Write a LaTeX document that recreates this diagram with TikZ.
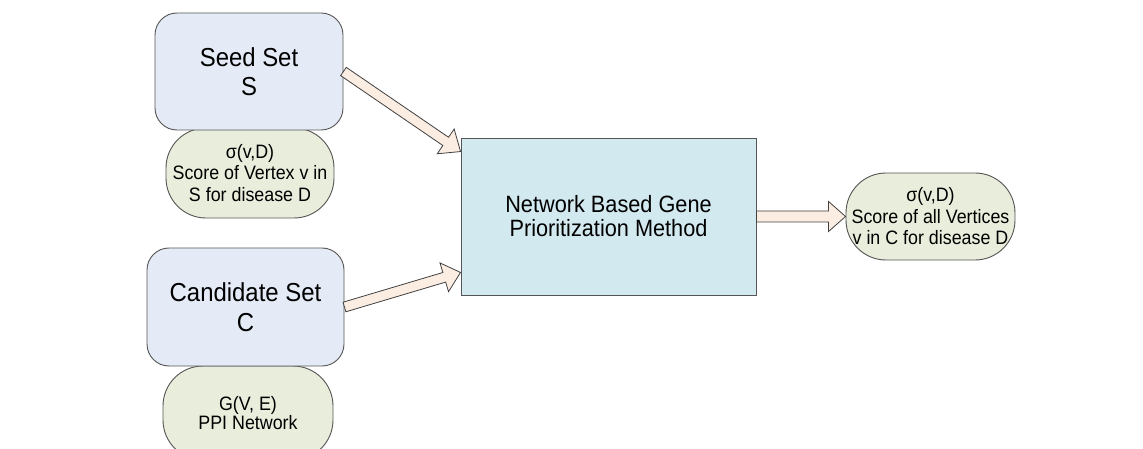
\documentclass[tikz,border=0pt]{standalone}
\usepackage{fontspec}
\setmainfont[FakeStretch=0.92]{Liberation Sans}
\usetikzlibrary{calc}
\definecolor{setfill}{HTML}{E5EBF6}
\definecolor{notefill}{HTML}{E9EDDB}
\definecolor{mainfill}{HTML}{D2E9EF}
\definecolor{arrowfill}{HTML}{FCEDE3}
\definecolor{edgecol}{HTML}{555555}
\tikzset{
  setbox/.style={draw=edgecol, line width=0.9pt, fill=setfill, rounded corners=22pt,
    align=center, font=\fontsize{26}{29.5}\selectfont, inner sep=0pt},
  notebox/.style={draw=edgecol, line width=0.9pt, fill=notefill, rounded corners=40pt,
    align=center, inner sep=0pt},
  mainbox/.style={draw=edgecol, line width=0.9pt, fill=mainfill,
    align=center, font=\fontsize{23.6}{24}\selectfont, inner sep=0pt},
  blockarr/.style={draw=black!75, line width=0.8pt, fill=arrowfill, line join=miter},
}
% block arrow from #1 to #2: shaft half width #3, head half width #4, head length #5
\newcommand{\bigarrow}[5]{%
  \path (#1) coordinate (ba-s) (#2) coordinate (ba-t);
  \path ($(ba-t)!#5!(ba-s)$) coordinate (ba-h);
  \filldraw[blockarr]
    ($(ba-s)!#3!90:(ba-t)$) -- ($(ba-h)!#3!90:(ba-t)$) -- ($(ba-h)!#4!90:(ba-t)$)
    -- (ba-t)
    -- ($(ba-h)!#4!-90:(ba-t)$) -- ($(ba-h)!#3!-90:(ba-t)$) -- ($(ba-s)!#3!-90:(ba-t)$)
    -- cycle;
}
\begin{document}
\begin{tikzpicture}[x=1pt,y=-1pt]
\useasboundingbox (0,0) rectangle (1143,449);
\fill[white] (0,0) rectangle (1143,449);

% notes (drawn first so the boxes sit on top)
\node[notebox, minimum width=168pt, minimum height=90pt,
  font=\fontsize{19.4}{21.7}\selectfont] (snote) at (250,173)
  {σ(v,D)\\Score of Vertex v in\\S for disease D};
\node[notebox, minimum width=170pt, minimum height=94pt,
  font=\fontsize{19.4}{19.5}\selectfont] (gnote) at (248,413)
  {G(V, E)\\PPI Network};

% set boxes
\node[setbox, minimum width=188pt, minimum height=117pt] (seed) at (249,71.5)
  {Seed Set\\S};
\node[setbox, minimum width=197pt, minimum height=118pt] (cand) at (245.5,307)
  {Candidate Set\\C};

% main method box
\node[mainbox, minimum width=295pt, minimum height=157pt] (main) at (608.5,216.5)
  {Network Based Gene\\Prioritization Method};

% output note
\node[notebox, minimum width=169pt, minimum height=87pt,
  font=\fontsize{19.4}{21.5}\selectfont] (out) at (930.5,216.5)
  {σ(v,D)\\Score of all Vertices\\v in C for disease D};

% connector end points on the main box
\coordinate (in1) at ($(main.north west)+(0,14)$);
\coordinate (in2) at ($(main.south west)+(0,-23)$);

% block arrows
\bigarrow{seed.east}{in1}{5pt}{15pt}{18pt}
\bigarrow{cand.east}{in2}{5pt}{15pt}{17pt}
\bigarrow{main.east}{out.west}{5.5pt}{15pt}{17pt}
\end{tikzpicture}
\end{document}
